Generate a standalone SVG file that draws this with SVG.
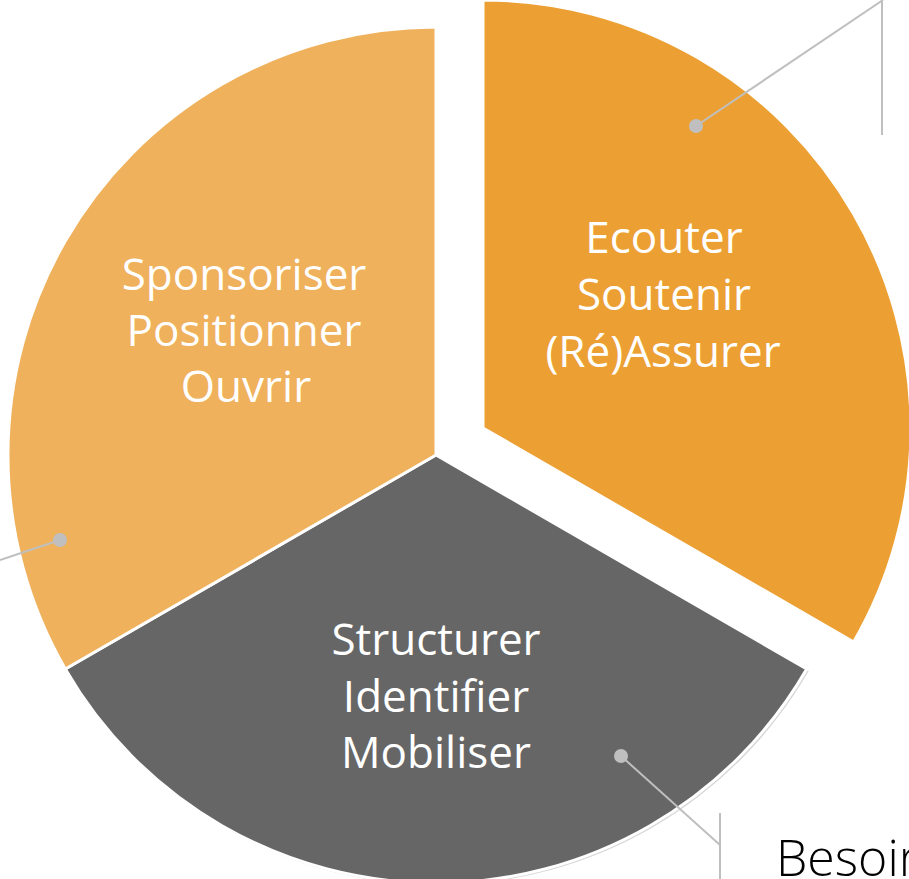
<svg xmlns="http://www.w3.org/2000/svg" width="909" height="879" viewBox="0 0 909 879">
  <style>
    .slice { stroke: #ffffff; stroke-width: 3; stroke-linejoin: miter; }
    .lbl { font-family: "Open Sans", "Noto Sans", "Liberation Sans", sans-serif; font-size: 44px; fill: #ffffff; text-anchor: middle; }
    .lead { stroke: #bfbfbf; stroke-width: 2; fill: none; }
    .dot { fill: #bfbfbf; }
  </style>
  <rect width="909" height="879" fill="#ffffff"/>
  <g id="slice-gray">
    <path d="M436,455 L65.3,669 A428,428 0 0 0 806.7,669 Z" fill="#d6d6d6" transform="translate(2,2)"/>
    <path class="slice" d="M436,455 L65.3,669 A428,428 0 0 0 806.7,669 Z" fill="#666666"/>
    <text class="lbl" x="436" y="655">Structurer</text>
    <text class="lbl" x="436" y="712">Identifier</text>
    <text class="lbl" x="436" y="768">Mobiliser</text>
  </g>
  <g id="slice-light">
    <path class="slice" d="M436,455 L436,27 A428,428 0 0 0 65.3,669 Z" fill="#efb15c"/>
    <text class="lbl" x="244" y="290">Sponsoriser</text>
    <text class="lbl" x="244" y="346">Positionner</text>
    <text class="lbl" x="246" y="402">Ouvrir</text>
  </g>
  <g id="slice-orange">
    <path class="slice" d="M436,455 L806.7,669 A428,428 0 0 0 436,27 Z" fill="#eca033" transform="translate(47,-27)"/>
    <text class="lbl" x="664" y="253">Ecouter</text>
    <text class="lbl" x="664" y="310">Soutenir</text>
    <text class="lbl" x="663" y="367">(Ré)Assurer</text>
  </g>
  <g id="connectors">
    <polyline class="lead" points="696,126 883,0"/>
    <line class="lead" x1="882" y1="0" x2="882" y2="135"/>
    <circle class="dot" cx="696" cy="126" r="7"/>
    <polyline class="lead" points="60,540 0,560"/>
    <circle class="dot" cx="60" cy="540" r="7"/>
    <polyline class="lead" points="621,756 720,845"/>
    <line class="lead" x1="720" y1="813" x2="720" y2="879"/>
    <circle class="dot" cx="621" cy="756" r="7"/>
  </g>
  <g id="label-besoin">
    <text x="776" y="876" font-family="'Open Sans', 'Noto Sans', 'Liberation Sans', sans-serif" font-weight="300" font-size="50" fill="#000000">Besoir</text>
  </g>
</svg>
